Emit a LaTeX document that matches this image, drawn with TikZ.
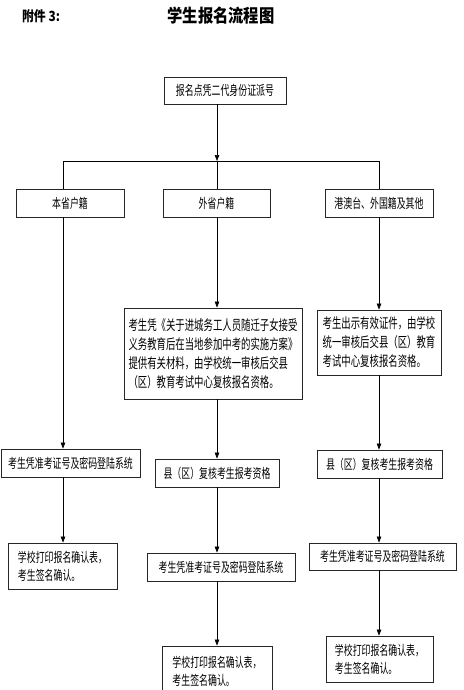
\documentclass[tikz,border=0pt]{standalone}
\usepackage{fontspec}
\newfontfamily\cjk[FakeStretch=0.67]{Noto Sans CJK SC}
\newfontfamily\cjktitle[FakeStretch=0.85]{Noto Sans CJK SC}
\usetikzlibrary{arrows.meta}
\begin{document}
\begin{tikzpicture}[x=1pt,y=-1pt,
  box/.style={draw=black!85, line width=0.8pt, inner sep=0pt, align=left,
    font=\cjk\fontsize{13.3}{18}\selectfont},
  bigbox/.style={box, font=\cjk\fontsize{14}{19}\selectfont},
  arr/.style={-{Triangle[length=6pt,width=4.5pt]}, line width=0.7pt},
  ln/.style={line width=0.7pt}]
\useasboundingbox (0,0) rectangle (463,690);
\fill[white] (0,0) rectangle (463,690);

% titles
\node[font=\cjktitle\bfseries\fontsize{14}{16}\selectfont] (att) at (41,16) {附件 3:};
\node[font=\cjktitle\bfseries\fontsize{18}{20}\selectfont] (title) at (221,16) {学生报名流程图};

% top
\node[box, minimum width=122pt, minimum height=27pt] (top) at (225,90.5) {报名点凭二代身份证派号};
\coordinate (J) at (217,161);
\coordinate (JL) at (63,161);
\coordinate (JR) at (379,161);

% row 1
\node[box, minimum width=108pt, minimum height=28pt] (b1) at (70,203) {本省户籍};
\node[box, minimum width=107pt, minimum height=28pt] (b2) at (216.5,203) {外省户籍};
\node[box, minimum width=108pt, minimum height=28pt] (b3) at (379,203) {港澳台、外国籍及其他};

% row 2
\node[bigbox, minimum width=178pt, minimum height=91pt] (m2) at (213,353.5)
  {考生凭《关于进城务工人员随迁子女接受\\义务教育后在当地参加中考的实施方案》\\提供有关材料，由学校统一审核后交县\\（区）教育考试中心复核报名资格。};
\node[bigbox, minimum width=124pt, minimum height=65pt] (m3) at (379,342.5)
  {考生出示有效证件，由学校\\统一审核后交县（区）教育\\考试中心复核报名资格。};

% row 3
\node[box, minimum width=139pt, minimum height=28pt] (l2) at (70.5,463) {考生凭准考证号及密码登陆系统};
\node[box, minimum width=124pt, minimum height=28pt] (c3) at (217,473) {县（区）复核考生报考资格};
\node[box, minimum width=125pt, minimum height=28pt] (r3) at (379.5,464) {县（区）复核考生报考资格};

% row 4
\node[box, minimum width=109pt, minimum height=46pt] (l3) at (62.5,566) {学校打印报名确认表，\\考生签名确认。};
\node[box, minimum width=148pt, minimum height=28pt] (c4) at (221,567) {考生凭准考证号及密码登陆系统};
\node[box, minimum width=147pt, minimum height=27pt] (r4) at (382.5,556.5) {考生凭准考证号及密码登陆系统};

% row 5
\node[box, minimum width=110pt, minimum height=50pt] (c5) at (217,671) {学校打印报名确认表，\\考生签名确认。};
\node[box, minimum width=107pt, minimum height=46pt] (r5) at (379.5,659) {学校打印报名确认表，\\考生签名确认。};

% connectors
\draw[arr] (top.south -| J) -- (J);
\draw[ln] (JL) -- (JR);
\draw[ln] (JL) -- (b1.north -| JL);
\draw[ln] (J) -- (b2.north -| J);
\draw[ln] (JR) -- (b3.north -| JR);

\draw[arr] (b1.south -| JL) -- (l2.north -| JL);
\draw[arr] (l2.south -| JL) -- (l3.north -| JL);

\draw[arr] (b2.south -| J) -- (m2.north -| J);
\draw[arr] (m2.south -| J) -- (c3.north -| J);
\draw[arr] (c3.south -| J) -- (c4.north -| J);
\draw[arr] (c4.south -| J) -- (c5.north -| J);

\draw[arr] (b3.south -| JR) -- (m3.north -| JR);
\draw[arr] (m3.south -| JR) -- (r3.north -| JR);
\draw[arr] (r3.south -| JR) -- (r4.north -| JR);
\draw[arr] (r4.south -| JR) -- (r5.north -| JR);
\end{tikzpicture}
\end{document}
